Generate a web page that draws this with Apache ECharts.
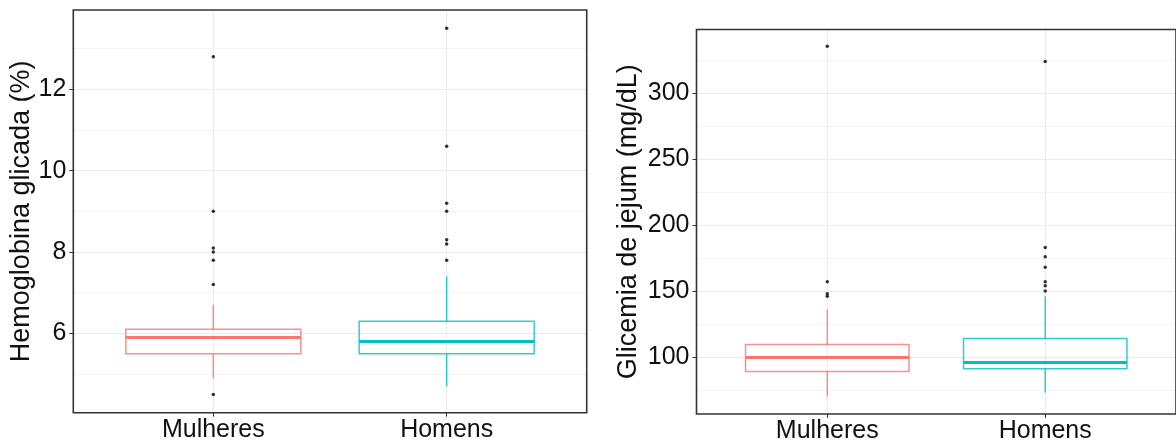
<!DOCTYPE html>
<html>
<head>
<meta charset="utf-8">
<script src="https://cdn.jsdelivr.net/npm/echarts@6/dist/echarts.min.js"></script>
<style>
html,body{margin:0;padding:0;background:#fff;}
#chart{width:1176px;height:444px;}
</style>
</head>
<body>
<div id="chart"></div>
<script>
// ---------- data ----------
const categories = ['Mulheres', 'Homens'];

// Hemoglobina glicada (%): [lower whisker, Q1, median, Q3, upper whisker]
const hbMulheres = [4.9, 5.5, 5.9, 6.1, 6.7];
const hbHomens   = [4.7, 5.5, 5.8, 6.3, 7.4];
const hbOutMulheres = [4.5, 7.2, 7.8, 8.0, 8.1, 9.0, 12.8];
const hbOutHomens   = [7.8, 8.2, 8.3, 9.0, 9.2, 10.6, 13.5];
const hbTicks = [6, 8, 10, 12];
const hbMinorTicks = [5, 7, 9, 11, 13];

// Glicemia de jejum (mg/dL)
const glMulheres = [70, 89, 99.5, 109.5, 136];
const glHomens   = [73, 91, 95.7, 114, 146];
const glOutMulheres = [146, 148, 157, 335.5];
const glOutHomens   = [150, 154, 157, 168, 176, 183, 324];
const glTicks = [100, 150, 200, 250, 300];
const glMinorTicks = [75, 125, 175, 225, 275, 325];

// ---------- style ----------
const colors = ['#F8766D', '#00BFC4'];
const FONT = 'Arial, "Liberation Sans", Helvetica, sans-serif';
const BOXW = 0.75;

function boxItems(statsList) {
  return statsList.map((s, i) => [i + 1].concat(s));
}
function outlierItems(lists) {
  const out = [];
  lists.forEach((l, i) => l.forEach(v => out.push([i + 1, v])));
  return out;
}

function renderBox(params, api) {
  const x = api.value(0);
  const lo = api.value(1), q1 = api.value(2), med = api.value(3), q3 = api.value(4), hi = api.value(5);
  const col = colors[params.dataIndex];
  const pHi = api.coord([x, hi]);
  const pQ3 = api.coord([x, q3]);
  const pQ1 = api.coord([x, q1]);
  const pLo = api.coord([x, lo]);
  const left = api.coord([x - BOXW / 2, q3]);
  const right = api.coord([x + BOXW / 2, q1]);
  const mL = api.coord([x - BOXW / 2, med]);
  const mR = api.coord([x + BOXW / 2, med]);
  const thin = {stroke: col, lineWidth: 1.5, opacity: 0.8};
  return {
    type: 'group',
    children: [
      {type: 'line', shape: {x1: pHi[0], y1: pHi[1], x2: pQ3[0], y2: pQ3[1]}, style: thin},
      {type: 'line', shape: {x1: pQ1[0], y1: pQ1[1], x2: pLo[0], y2: pLo[1]}, style: thin},
      {type: 'rect', shape: {x: left[0], y: left[1], width: right[0] - left[0], height: right[1] - left[1]},
        style: {fill: 'none', stroke: col, lineWidth: 1.5, opacity: 0.8}},
      {type: 'line', shape: {x1: mL[0], y1: mL[1], x2: mR[0], y2: mR[1]},
        style: {stroke: col, lineWidth: 3}}
    ]
  };
}

function xAxisDef(gridIndex) {
  return {
    type: 'value', gridIndex: gridIndex, min: 0.4, max: 2.6,
    axisLine: {show: false},
    axisTick: {show: true, customValues: [1, 2], length: 4, lineStyle: {color: '#333', width: 1}},
    axisLabel: {customValues: [1, 2], formatter: v => categories[Math.round(v) - 1],
      color: '#111', fontSize: 25, fontFamily: FONT, margin: 5},
    splitLine: {show: true, lineStyle: {color: '#ebebeb', width: 1}}
  };
}
function yAxisDef(gridIndex, min, max, ticks, name, nameGap) {
  return {
    type: 'value', gridIndex: gridIndex, min: min, max: max,
    name: name, nameLocation: 'middle', nameRotate: 90, nameGap: nameGap,
    nameTextStyle: {color: '#111', fontSize: 27, fontFamily: FONT},
    axisLine: {show: false},
    axisTick: {show: true, customValues: ticks, length: 4, lineStyle: {color: '#333', width: 1}},
    axisLabel: {customValues: ticks, color: '#111', fontSize: 25, fontFamily: FONT, margin: 7},
    splitLine: {show: true, lineStyle: {color: '#ebebeb', width: 1}}
  };
}
function yMinorDef(gridIndex, min, max, ticks) {
  return {
    type: 'value', gridIndex: gridIndex, min: min, max: max,
    axisLine: {show: false},
    axisTick: {show: false, customValues: ticks},
    axisLabel: {show: false, customValues: ticks},
    splitLine: {show: true, lineStyle: {color: '#f4f4f4', width: 1}}
  };
}

const chart = echarts.init(document.getElementById('chart'), null, {renderer: 'canvas'});
chart.setOption({
  animation: false,
  backgroundColor: '#ffffff',
  grid: [
    {left: 73.3, top: 10, width: 513.4, height: 402.7, show: true, borderColor: '#333', borderWidth: 1.6, backgroundColor: 'transparent', z: 3},
    {left: 696.5, top: 29.5, width: 481, height: 388.2, show: true, borderColor: '#333', borderWidth: 1.6, backgroundColor: 'transparent', z: 3}
  ],
  xAxis: [xAxisDef(0), xAxisDef(1)],
  yAxis: [
    yAxisDef(0, 4.05, 13.95, hbTicks, 'Hemoglobina glicada (%)', 36),
    yAxisDef(1, 56.75, 348.25, glTicks, 'Glicemia de jejum (mg/dL)', 54),
    yMinorDef(0, 4.05, 13.95, hbMinorTicks),
    yMinorDef(1, 56.75, 348.25, glMinorTicks)
  ],
  series: [
    {type: 'custom', xAxisIndex: 0, yAxisIndex: 0, renderItem: renderBox,
      data: boxItems([hbMulheres, hbHomens]), z: 5},
    {type: 'scatter', xAxisIndex: 0, yAxisIndex: 0, symbol: 'circle', symbolSize: 3.5,
      itemStyle: {color: '#000'}, data: outlierItems([hbOutMulheres, hbOutHomens]), z: 6},
    {type: 'custom', xAxisIndex: 1, yAxisIndex: 1, renderItem: renderBox,
      data: boxItems([glMulheres, glHomens]), z: 5},
    {type: 'scatter', xAxisIndex: 1, yAxisIndex: 1, symbol: 'circle', symbolSize: 3.5,
      itemStyle: {color: '#000'}, data: outlierItems([glOutMulheres, glOutHomens]), z: 6}
  ]
});
</script>
</body>
</html>
